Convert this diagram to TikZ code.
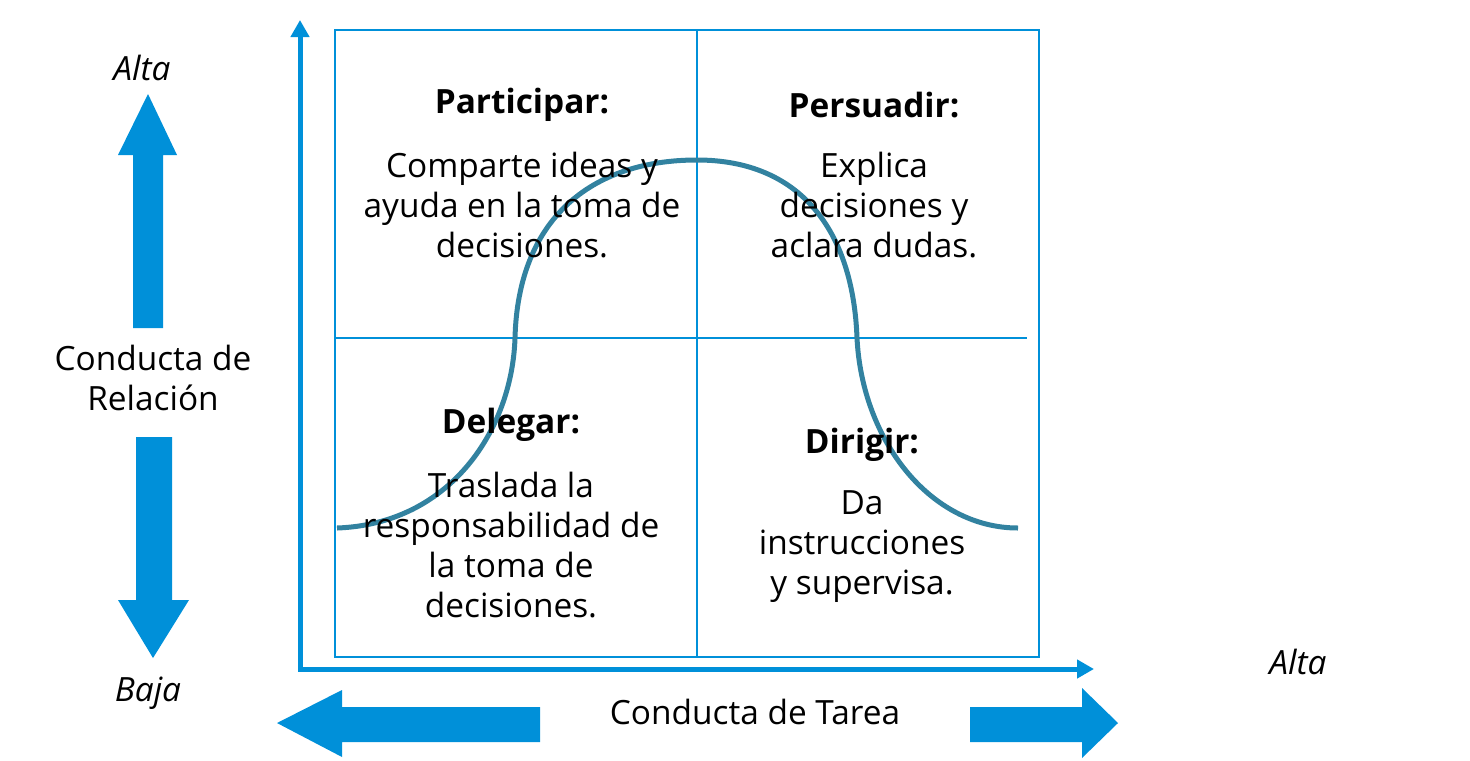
\documentclass[tikz,border=0pt]{standalone}
\usepackage{fontspec}
\setmainfont{Open Sans}
\usetikzlibrary{arrows.meta}
\definecolor{mblue}{RGB}{0,144,217}
\definecolor{curvec}{RGB}{50,130,160}
\tikzset{
  gridline/.style={draw=mblue, line width=1pt},
  axisline/.style={draw=mblue, line width=2.5pt, -{Triangle[length=8.5pt,width=9pt]}},
  bigarrow/.style={fill=mblue, draw=none},
  txt/.style={font=\fontsize{16.7}{20}\selectfont, align=center, inner sep=0pt, text=black},
  ttl/.style={font=\fontsize{16.7}{20}\selectfont\bfseries, align=center, inner sep=0pt, text=black},
  itl/.style={font=\fontsize{16.7}{20}\selectfont\itshape, inner sep=0pt, text=black},
  bell/.style={draw=curvec, line width=2.5pt}
}
\begin{document}
\begin{tikzpicture}[x=0.5pt, y=-0.5pt]
\useasboundingbox (0,0) rectangle (1470,760);
% grid
\draw[gridline] (335,30) rectangle (1039,657);
\draw[gridline] (697,30) -- (697,657);
\draw[gridline] (335,338) -- (1027,338);
% axes
\coordinate (origin) at (300,669);
\coordinate (ytip) at (300,20);
\coordinate (xtip) at (1094,669);
\draw[axisline] (300,671) -- (ytip);
\draw[axisline] (298,669) -- (xtip);
% bell curve
\draw[bell] (337,528) .. controls (450,524) and (512,430) .. (515,338)
  .. controls (518,220) and (590,160) .. (697,160)
  .. controls (800,160) and (853,230) .. (857,338)
  .. controls (862,440) and (930,528) .. (1018,528);
% big arrows
\fill[bigarrow] (133,328) -- (133,155) -- (118,155) -- (148,94) -- (177,155) -- (163,155) -- (163,328) -- cycle;
\fill[bigarrow] (136,437) -- (136,600) -- (118,600) -- (153,658) -- (189,600) -- (172,600) -- (172,437) -- cycle;
\fill[bigarrow] (540,707) -- (342,707) -- (342,690) -- (277,723) -- (342,757) -- (342,742) -- (540,742) -- cycle;
\fill[bigarrow] (970,707) -- (1082,707) -- (1082,688) -- (1118,723) -- (1082,758) -- (1082,742) -- (970,742) -- cycle;
% labels
\node[itl] (altay) at (142,68) {Alta};
\node[itl] (bajay) at (148,693) {Baja};
\node[itl] (altax) at (1298,662) {Alta};
\node[txt] (relacion) at (153,378) {Conducta de\\Relación};
\node[txt] (tarea) at (755,712) {Conducta de Tarea};
% quadrants
\node[ttl] (partT) at (522,105) {Participar:};
\node[txt] (partB) at (522,205) {Comparte ideas y\\ayuda en la toma de\\decisiones.};
\node[ttl] (persT) at (874,105) {Persuadir:};
\node[txt] (persB) at (874,205) {Explica\\decisiones y\\aclara dudas.};
\node[ttl] (delT) at (511,425) {Delegar:};
\node[txt] (delB) at (511,545) {Traslada la\\responsabilidad de\\la toma de\\decisiones.};
\node[ttl] (dirT) at (862,445) {Dirigir:};
\node[txt] (dirB) at (862,547) {Da\\instrucciones\\y supervisa.};
\end{tikzpicture}
\end{document}
